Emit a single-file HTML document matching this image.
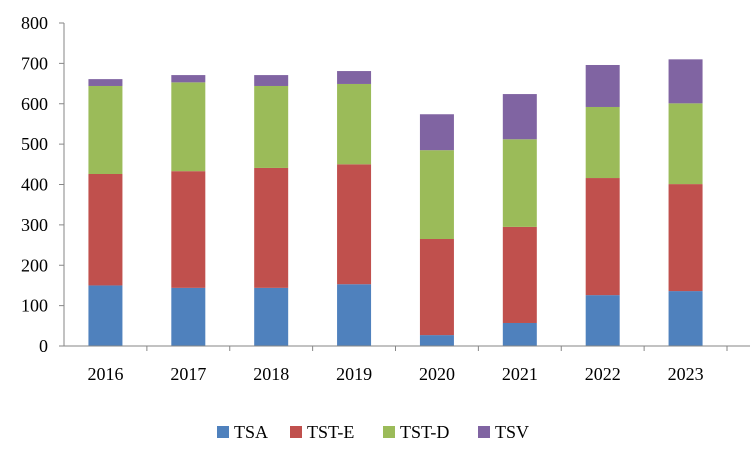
<!DOCTYPE html>
<html><head><meta charset="utf-8"><style>
body{margin:0;background:#fff;}
svg text{font-family:"Liberation Serif",serif;fill:#000;}
</style></head><body>
<svg id="chart" width="750" height="450"></svg>
<script>
const categories=["2016","2017","2018","2019","2020","2021","2022","2023"];
const tsa=[150,144,144,153,27,57,126,136];
const tstE=[276,289,297,297,238,238,290,265];
const tstD=[218,220,203,199,220,217,176,200];
const tsv=[17,18,27,32,89,112,104,109];
const yTicks=[0,100,200,300,400,500,600,700,800];
const seriesNames=["TSA","TST-E","TST-D","TSV"];
const seriesColors=["#4f81bd","#c0504d","#9bbb59","#8064a2"];
const series=[tsa,tstE,tstD,tsv];

const NS="http://www.w3.org/2000/svg";
const svg=document.getElementById('chart');
const x0=64,x1=727,y0=346,yTop=23,yMax=800;
const band=(x1-x0)/categories.length;
const barW=34;
const yS=v=>y0-(v/yMax)*(y0-yTop);
const xC=i=>x0+band*(i+0.5);
function mk(tag,attrs){const e=document.createElementNS(NS,tag);for(const k in attrs)e.setAttribute(k,attrs[k]);svg.appendChild(e);return e;}

yTicks.forEach(t=>{
  const tk=mk('line',{x1:x0-5,x2:x0,y1:yS(t),y2:yS(t),stroke:'#868686'});
  
  
  const lb=mk('text',{x:x0-16,y:yS(t)+6,'text-anchor':'end','font-size':18});
  lb.textContent=t;
  
  
});
categories.forEach((c,i)=>{
  let base=0;
  series.forEach((s,k)=>{
    const r=mk('rect',{x:xC(i)-barW/2,y:yS(base+s[i]),width:barW,height:yS(base)-yS(base+s[i]),fill:seriesColors[k]});
    
    
    base+=s[i];
  });
  const tk=mk('line',{x1:x0+band*(i+1),x2:x0+band*(i+1),y1:y0,y2:y0+5,stroke:'#868686'});
  
  
  const lb=mk('text',{x:xC(i),y:380,'text-anchor':'middle','font-size':18});
  lb.textContent=c;
  
  
});
const ya=mk('line',{x1:x0,x2:x0,y1:yTop,y2:y0,stroke:'#868686'});


const xa=mk('line',{x1:x0,x2:x1+28,y1:y0,y2:y0,stroke:'#868686'});


const lx=[217,290,383,478];
seriesNames.forEach((n,k)=>{
  const r=mk('rect',{x:lx[k],y:426,width:12,height:12,fill:seriesColors[k]});
  
  
  const t=mk('text',{x:lx[k]+17,y:438,'font-size':18});
  t.textContent=n;
  
  
});
</script>
</body></html>
